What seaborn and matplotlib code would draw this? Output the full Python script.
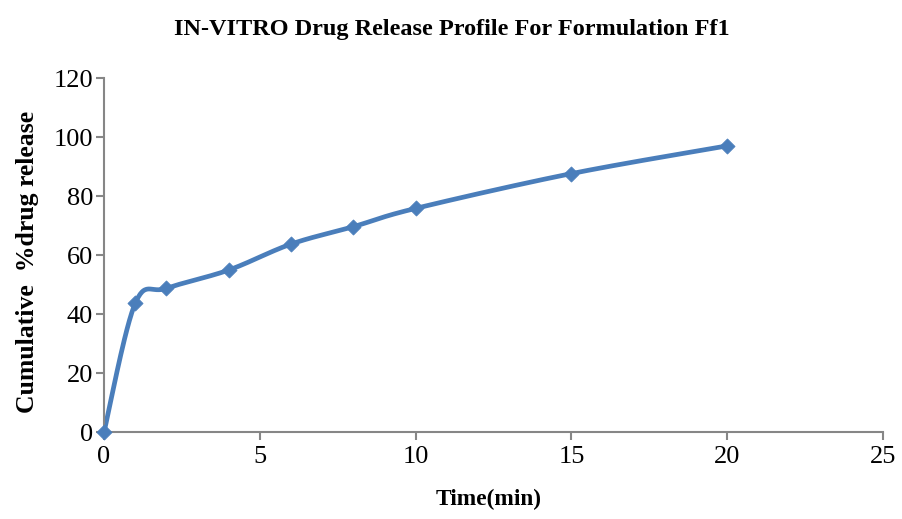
import numpy as np
import pandas as pd
import matplotlib
matplotlib.use("Agg")
import matplotlib.pyplot as plt
import seaborn as sns

time_min = [0, 1, 2, 4, 6, 8, 10, 15, 20]
release = [0, 43.6, 48.7, 54.9, 63.7, 69.6, 75.8, 87.6, 97.0]
x_ticks = [0, 5, 10, 15, 20, 25]
y_ticks = [0, 20, 40, 60, 80, 100, 120]

title = "IN-VITRO Drug Release Profile For Formulation Ff1"
xlabel = "Time(min)"
ylabel = "Cumulative  %drug release"

sns.set_theme(style="white")
plt.rcParams['font.family'] = ['Liberation Serif', 'DejaVu Serif']


def smooth_curve(xs, ys, n=30):
    # Catmull-Rom (Excel-style smoothed line) through the data points
    P = np.column_stack([xs, ys]).astype(float)
    P = np.vstack([P[0], P, P[-1]])
    out = []
    for i in range(1, len(P) - 2):
        p0, p1, p2, p3 = P[i - 1], P[i], P[i + 1], P[i + 2]
        c1 = p1 + (p2 - p0) / 6
        c2 = p2 - (p3 - p1) / 6
        t = np.linspace(0, 1, n)[:, None]
        b = ((1 - t) ** 3) * p1 + 3 * ((1 - t) ** 2) * t * c1 + 3 * (1 - t) * t ** 2 * c2 + t ** 3 * p2
        out.append(b if i == 1 else b[1:])
    B = np.vstack(out)
    return B[:, 0], B[:, 1]


sx, sy = smooth_curve(time_min, release)
curve = pd.DataFrame({"t": sx, "r": sy})
pts = pd.DataFrame({"t": time_min, "r": release})

fig = plt.figure(figsize=(9.03, 5.19), dpi=100)
ax = fig.add_axes([0.1152, 0.1676, 0.8627, 0.6821])

color = "#4A7EBB"
sns.lineplot(data=curve, x="t", y="r", sort=False, ax=ax, color=color, linewidth=3.4)
sns.scatterplot(data=pts, x="t", y="r", ax=ax, color=color, marker="D", s=60,
                edgecolor=color, linewidth=0.5, zorder=3, clip_on=False)

ax.set_xlim(0, 25)
ax.set_ylim(0, 120)
ax.set_xticks(x_ticks)
ax.set_yticks(y_ticks)
ax.set_xticklabels([str(v) for v in x_ticks], fontsize=19)
ax.set_yticklabels([str(v) for v in y_ticks], fontsize=19)
for side in ["top", "right"]:
    ax.spines[side].set_visible(False)
for side in ["left", "bottom"]:
    ax.spines[side].set_color("#868686")
    ax.spines[side].set_linewidth(1.5)
ax.tick_params(axis="both", which="both", direction="out", length=6, width=1.5,
               color="#868686", labelcolor="black", bottom=True, left=True, pad=2)
ax.tick_params(axis="x", pad=4)
ax.grid(False)

ax.set_xlabel("")
ax.set_ylabel("")
fig.text(0.5415, 0.018, xlabel, ha="center", va="bottom", fontsize=16.8, fontweight="bold",
         color="black")
fig.text(0.031, 0.495, ylabel, ha="center", va="center", rotation=90, fontsize=18.5,
         fontweight="bold", color="black")
fig.text(0.50, 0.944, title, ha="center", va="center", fontsize=17.5, fontweight="bold",
         color="black")

fig.savefig("out.png", dpi=100, facecolor="white")
